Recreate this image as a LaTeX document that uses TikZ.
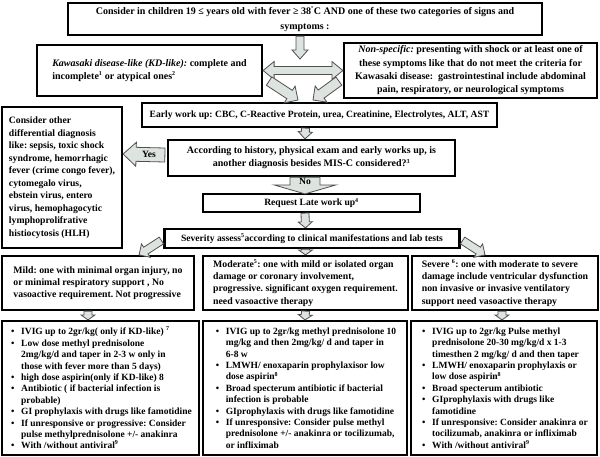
\documentclass[tikz,border=0pt]{standalone}
\usepackage{fontspec}
\setmainfont{Liberation Serif}
\usetikzlibrary{calc}
\frenchspacing
\definecolor{afill}{HTML}{DDE3DF}
\definecolor{adraw}{HTML}{505050}
\newcommand\blockarrow[5]{%
  \path[harrow] let \p1=#1, \p2=#2, \n1={atan2(\y2-\y1,\x2-\x1)}, \n2={veclen(\x2-\x1,\y2-\y1)} in
  [shift={(\p1)}, rotate=\n1]
  (0,#3) -- ({\n2-#5},#3) -- ({\n2-#5},#4) -- (\n2,0) -- ({\n2-#5},-#4) -- ({\n2-#5},-#3) -- (0,-#3) -- cycle;}
\newcommand\dblarrow[5]{%
  \path[harrow] let \p1=#1, \p2=#2, \n1={atan2(\y2-\y1,\x2-\x1)}, \n2={veclen(\x2-\x1,\y2-\y1)} in
  [shift={(\p1)}, rotate=\n1]
  (0,0) -- (#5,#4) -- (#5,#3) -- ({\n2-#5},#3) -- ({\n2-#5},#4) -- (\n2,0) -- ({\n2-#5},-#4) -- ({\n2-#5},-#3) -- (#5,-#3) -- (#5,-#4) -- cycle;}
\newcommand\bl{\makebox[12pt][l]{\hspace{2pt}\textbullet}}
\newcommand\cl{\makebox[12pt]{}}
\newcommand\sups[1]{\textsuperscript{\fontsize{6}{6}\selectfont #1}}
\tikzset{
  every node/.style={font=\fontsize{9.6}{11.3}\selectfont\bfseries},
  box/.style={draw, line width=2.2pt, fill=white, inner sep=0pt, align=center},
  harrow/.style={fill=afill, draw=adraw, line width=0.8pt},
}
\begin{document}
\begin{tikzpicture}[x=1pt,y=-1pt]
\useasboundingbox (0,0) rectangle (600,456);
% boxes
\node[box, minimum width=474, minimum height=32,
  font=\fontsize{10}{15}\selectfont\bfseries] (top) at (305,19)
  {Consider in children 19 ≤ years old with fever ≥ 38\sups{°}C AND one of these two categories of signs and\\ symptoms :};
\node[box, minimum width=225, minimum height=51, align=left,
  font=\fontsize{10}{12.5}\selectfont\bfseries] (kd) at (149.5,70.5)
  {\textit{Kawasaki disease-like (KD-like):} complete and\\ incomplete\sups{1} or atypical ones\sups{2}};
\node[box, minimum width=253, minimum height=55,
  font=\fontsize{10}{13.3}\selectfont\bfseries] (ns) at (470.5,70.5)
  {\textit{Non-specific:} presenting with shock or at least one of\\ these symptoms like that do not meet the criteria for\\ Kawasaki disease:\ \ gastrointestinal include abdominal\\ pain, respiratory, or neurological symptoms};
\node[box, minimum width=355, minimum height=24] (early) at (319.5,115)
  {Early work up: CBC, C-Reactive Protein, urea, Creatinine, Electrolytes, ALT, AST};
\node[box, minimum width=120, minimum height=141, align=left,
  font=\fontsize{9.7}{12.5}\selectfont\bfseries] (diff) at (62,177.5)
  {Consider other\\ differential diagnosis\\ like: sepsis, toxic shock\\ syndrome, hemorrhagic\\ fever (crime congo fever),\\ cytomegalo virus,\\ ebstein virus, entero\\ virus, hemophagocytic\\ lymphoprolifrative\\ histiocytosis (HLH)};
\node[box, minimum width=287, minimum height=36,
  font=\fontsize{10}{13}\selectfont\bfseries] (acc) at (311.5,158)
  {According to history, physical exam and early works up, is\\ another diagnosis besides MIS-C considered?\sups{3}};
\node[box, minimum width=217, minimum height=18] (req) at (311.5,203)
  {Request Late work up\sups{4}};
\node[box, minimum width=295, minimum height=19] (sev) at (312,238.5)
  {Severity assess\sups{5}according to clinical manifestations and lab tests};
\node[box, minimum width=192, minimum height=54, align=left,
  font=\fontsize{9.8}{12.3}\selectfont\bfseries] (mild) at (98,283)
  {Mild: one with minimal organ injury, no\\ or minimal respiratory support , No\\ vasoactive requirement. Not progressive};
\node[box, minimum width=205, minimum height=54, align=left,
  font=\fontsize{9.8}{12.3}\selectfont\bfseries] (mod) at (305.5,283)
  {Moderate\sups{5}: one with mild or isolated organ\\ damage or coronary involvement,\\ progressive. significant oxygen requirement.\\ need vasoactive therapy};
\node[box, minimum width=186, minimum height=54, align=left,
  font=\fontsize{9.8}{12.3}\selectfont\bfseries] (sevr) at (505,283)
  {Severe \sups{6}: one with moderate to severe\\ damage include ventricular dysfunction\\ non invasive or invasive ventilatory\\ support need vasoactive therapy};
\node[box, minimum width=197, minimum height=134, align=left,
  font=\fontsize{9.5}{11.4}\selectfont\bfseries] (tmild) at (100.5,388)
  {\bl IVIG up to 2gr/kg( only if KD-like) \sups{7}\\
   \bl Low dose methyl prednisolone\\
   \cl 2mg/kg/d and taper in 2-3 w only in\\
   \cl those with fever more than 5 days)\\
   \bl high dose aspirin(only if KD-like) 8\\
   \bl Antibiotic ( if bacterial infection is\\
   \cl probable)\\
   \bl GI prophylaxis with drugs like famotidine\\
   \bl If unresponsive or progressive: Consider\\
   \cl pulse methylprednisolone +/- anakinra\\
   \bl With /without antiviral\sups{9}};
\node[box, minimum width=204, minimum height=134, align=left,
  font=\fontsize{9.5}{11.4}\selectfont\bfseries] (tmod) at (305,388)
  {\bl IVIG up to 2gr/kg methyl prednisolone 10\\
   \cl mg/kg and then 2mg/kg/ d and taper in\\
   \cl 6-8 w\\
   \bl LMWH/ enoxaparin prophylaxisor low\\
   \cl dose aspirin\sups{8}\\
   \bl Broad specterum antibiotic if bacterial\\
   \cl infection is probable\\
   \bl GIprophylaxis with drugs like famotidine\\
   \bl If unresponsive: Consider pulse methyl\\
   \cl prednisolone +/- anakinra or tocilizumab,\\
   \cl or infliximab};
\node[box, minimum width=186, minimum height=134, align=left,
  font=\fontsize{9.5}{11.4}\selectfont\bfseries] (tsev) at (504,388)
  {\bl IVIG up to 2gr/kg Pulse methyl\\
   \cl prednisolone 20-30 mg/kg/d x 1-3\\
   \cl timesthen 2 mg/kg/ d and then taper\\
   \bl LMWH/ enoxaparin prophylaxis or\\
   \cl low dose aspirin\sups{8}\\
   \bl Broad specterum antibiotic\\
   \bl GIprophylaxis with drugs like\\
   \cl famotidine\\
   \bl If unresponsive: Consider anakinra or\\
   \cl tocilizumab, anakinra or infliximab\\
   \bl With /without antiviral\sups{9}};
% junction points
\coordinate (dj) at (300,59);
\coordinate (e1) at (298,100);
\coordinate (e2) at (313,100);
% arrows
\blockarrow{($(top.south)+(-5,0)$)}{(dj)}{4}{8}{9}
\dblarrow{(kd.east)}{(ns.west)}{4}{9}{11}
\blockarrow{($(kd.south east)+(6,-16)$)}{(e1)}{5}{10}{10}
\blockarrow{($(ns.south west)+(-4,-18)$)}{(e2)}{5}{10}{10}
\blockarrow{($(early.south)+(-14,0)$)}{($(acc.north)+(-6.5,0)$)}{4}{7}{7}
\blockarrow{($(acc.south)+(-6.5,0)$)}{($(req.north)+(-6.5,1)$)}{15}{31}{9}
\node (no) at (305,181.5) {No};
\blockarrow{($(acc.west)+(-2,-3)$)}{($(diff.east)+(0,-23.5)$)}{7}{12}{13}
\node (yes) at (149,154) {Yes};
\blockarrow{($(req.south)+(-6.5,0)$)}{($(sev.north)+(-6.5,0)$)}{4}{7}{6}
\blockarrow{($(sev.west)+(-2,2)$)}{($(mild.north east)+(-56,0)$)}{4}{8}{8}
\blockarrow{($(sev.south)+(-6.5,0)$)}{($(mod.north)+(0,0)$)}{4}{7}{5}
\blockarrow{($(sev.east)+(2,2)$)}{($(sevr.north)+(-20,0)$)}{4}{8}{8}
\blockarrow{($(mild.south)+(-10,0)$)}{($(tmild.north)+(-12.5,0)$)}{4}{7}{5}
\blockarrow{($(mod.south)+(0,0)$)}{($(tmod.north)+(0,0)$)}{4}{7}{5}
\blockarrow{($(sevr.south)+(-3,0)$)}{($(tsev.north)+(-2,0)$)}{4}{7}{5}
\end{tikzpicture}
\end{document}
